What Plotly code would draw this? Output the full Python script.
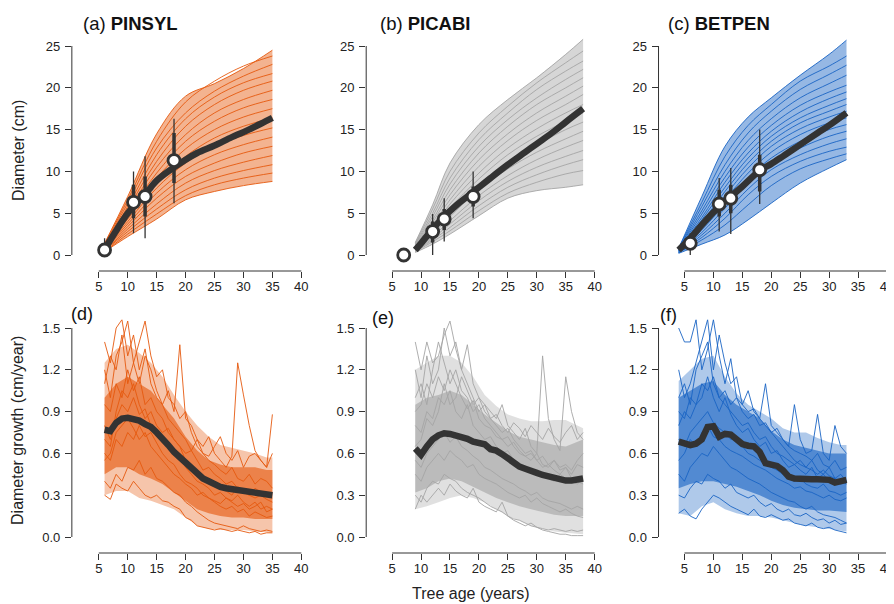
import plotly.graph_objects as go

# The page is drawn with the browser's default 8 px body margin, so the figure is
# made 8 px smaller and every reference pixel position is shifted by 8 px.
W_REF, H_REF = 894, 604
OFF = 8
W, H = W_REF - OFF, H_REF - OFF

# ------------------------------------------------------------------ DATA
species = ["PINSYL", "PICABI", "BETPEN"]
top_labels = ["(a)", "(b)", "(c)"]
bottom_labels = ["(d)", "(e)", "(f)"]
x_ticks = [5, 10, 15, 20, 25, 30, 35, 40]
y_ticks_top = [0, 5, 10, 15, 20, 25]
y_ticks_bottom = [0.0, 0.3, 0.6, 0.9, 1.2, 1.5]

# --- (a) PINSYL diameter curves
a_ages = [6, 10, 15, 20, 25, 30, 35]
a_curves = [
    [1.4, 7.0, 14.5, 19.0, 20.5, 22.3, 24.5],
    [1.3, 6.6, 13.6, 18.3, 20.8, 22.6, 23.8],
    [1.2, 6.2, 12.8, 17.0, 19.6, 21.4, 22.8],
    [1.1, 5.8, 12.0, 16.3, 18.9, 20.6, 21.7],
    [1.0, 5.5, 11.2, 15.4, 18.0, 19.7, 20.8],
    [0.9, 5.2, 10.5, 14.4, 17.0, 18.6, 19.7],
    [0.9, 4.9, 9.8, 13.6, 16.0, 17.6, 18.6],
    [0.8, 4.6, 9.2, 12.7, 15.0, 16.5, 17.5],
    [0.8, 4.3, 8.6, 11.8, 14.0, 15.4, 16.4],
    [0.7, 4.0, 8.0, 11.0, 13.0, 14.3, 15.2],
    [0.7, 3.7, 7.4, 10.2, 12.0, 13.2, 14.1],
    [0.6, 3.4, 6.8, 9.4, 11.0, 12.2, 13.0],
    [0.5, 3.1, 6.1, 8.6, 10.1, 11.1, 11.9],
    [0.5, 2.8, 5.5, 7.8, 9.2, 10.1, 10.8],
    [0.4, 2.5, 4.9, 7.1, 8.4, 9.2, 9.8],
    [0.4, 2.2, 4.3, 6.6, 7.6, 8.3, 8.8],
]
a_mean_ages = [6, 7, 8, 9, 10, 11, 12, 13, 14, 15, 17, 20, 22, 25, 28, 30, 33, 35]
a_mean = [0.6, 1.8, 2.9, 4.0, 5.0, 5.8, 6.6, 7.3, 8.1, 8.9, 10.0, 11.4, 12.2, 13.1, 14.1, 14.7, 15.7, 16.4]
a_pt_age = [6, 11, 13, 18]
a_pt_val = [0.6, 6.3, 7.0, 11.3]
a_thin_lo = [0.0, 2.6, 2.0, 6.2]
a_thin_hi = [2.0, 10.0, 11.8, 16.3]
a_thick_lo = [0.2, 4.4, 4.6, 8.6]
a_thick_hi = [1.2, 8.4, 9.4, 14.6]

# --- (b) PICABI diameter curves
b_ages = [9, 12, 15, 20, 25, 30, 35, 38]
b_curves = [
    [1.5, 6.0, 11.0, 15.6, 18.6, 21.2, 24.0, 25.8],
    [1.4, 5.5, 10.0, 14.6, 17.8, 20.6, 23.0, 24.4],
    [1.3, 5.0, 9.2, 13.8, 17.0, 19.8, 22.0, 23.2],
    [1.2, 4.6, 8.5, 13.0, 16.2, 18.8, 21.0, 22.2],
    [1.1, 4.2, 7.8, 12.2, 15.4, 18.0, 20.0, 21.2],
    [1.0, 3.9, 7.2, 11.4, 14.5, 17.0, 19.0, 20.2],
    [0.9, 3.6, 6.6, 10.6, 13.7, 16.1, 18.0, 19.2],
    [0.9, 3.3, 6.1, 9.8, 12.8, 15.1, 17.0, 18.0],
    [0.8, 3.0, 5.6, 9.1, 12.0, 14.2, 16.0, 17.0],
    [0.7, 2.7, 5.1, 8.4, 11.1, 13.2, 15.0, 15.9],
    [0.7, 2.5, 4.6, 7.8, 10.3, 12.3, 13.9, 14.8],
    [0.6, 2.2, 4.1, 7.1, 9.5, 11.4, 12.9, 13.7],
    [0.5, 2.0, 3.7, 6.5, 8.8, 10.5, 11.8, 12.5],
    [0.5, 1.8, 3.3, 5.9, 8.1, 9.6, 10.8, 11.4],
    [0.4, 1.6, 2.9, 5.3, 7.4, 8.7, 9.7, 10.1],
    [0.3, 1.3, 2.5, 4.7, 6.8, 7.7, 8.1, 8.4],
]
b_mean_ages = [9, 10, 12, 14, 16, 18, 20, 22, 25, 28, 30, 33, 35, 38]
b_mean = [0.6, 1.4, 3.1, 4.6, 5.9, 7.0, 8.1, 9.2, 10.8, 12.3, 13.3, 14.8, 15.9, 17.5]
b_pt_age = [7, 12, 14, 19]
b_pt_val = [0.0, 2.8, 4.3, 7.0]
b_thin_lo = [0.0, 0.0, 1.6, 4.4]
b_thin_hi = [0.0, 4.9, 6.8, 10.0]
b_thick_lo = [0.0, 1.5, 3.0, 5.8]
b_thick_hi = [0.0, 4.0, 5.5, 8.2]

# --- (c) BETPEN diameter curves
c_ages = [4, 8, 12, 16, 20, 25, 30, 33]
c_curves = [
    [0.8, 7.0, 13.0, 16.5, 18.8, 21.5, 24.0, 25.7],
    [0.8, 6.3, 11.8, 15.5, 18.0, 20.8, 22.6, 23.8],
    [0.7, 5.8, 10.8, 14.6, 17.2, 19.8, 21.6, 22.7],
    [0.7, 5.3, 10.0, 13.7, 16.3, 18.8, 20.5, 21.5],
    [0.6, 4.9, 9.3, 12.9, 15.5, 17.9, 19.5, 20.3],
    [0.6, 4.5, 8.7, 12.2, 14.8, 17.1, 18.7, 19.5],
    [0.5, 4.2, 8.1, 11.6, 14.2, 16.4, 17.9, 18.7],
    [0.5, 3.9, 7.6, 11.0, 13.6, 15.8, 17.2, 18.0],
    [0.5, 3.6, 7.1, 10.4, 13.0, 15.1, 16.5, 17.2],
    [0.4, 3.3, 6.6, 9.8, 12.3, 14.4, 15.8, 16.4],
    [0.4, 3.0, 6.1, 9.2, 11.6, 13.6, 15.0, 15.6],
    [0.4, 2.7, 5.6, 8.6, 10.9, 12.8, 14.2, 14.8],
    [0.3, 2.4, 5.0, 7.9, 10.2, 12.0, 13.3, 13.9],
    [0.3, 2.1, 4.4, 7.2, 9.4, 11.2, 12.4, 12.9],
    [0.3, 1.8, 3.6, 6.0, 8.3, 10.3, 11.5, 12.1],
    [0.2, 1.3, 2.4, 4.2, 6.2, 8.6, 10.4, 11.4],
]
c_mean_ages = [4, 6, 8, 10, 11, 13, 15, 18, 20, 22, 25, 28, 30, 33]
c_mean = [0.6, 2.0, 3.6, 5.1, 5.8, 7.0, 8.2, 10.1, 10.9, 11.8, 13.2, 14.6, 15.5, 17.0]
c_pt_age = [6, 11, 13, 18]
c_pt_val = [1.4, 6.1, 6.8, 10.2]
c_thin_lo = [0.0, 2.8, 2.5, 6.1]
c_thin_hi = [2.6, 9.2, 10.4, 15.0]
c_thick_lo = [0.6, 4.6, 5.0, 7.6]
c_thick_hi = [2.0, 7.8, 8.4, 12.0]

# --- (d) PINSYL growth
d_ages = list(range(6, 36))
d_lines = [
    [1.40, 1.25, 1.50, 1.56, 1.30, 1.45, 1.20, 1.35, 1.10, 1.00, 0.95, 1.05, 0.90, 1.38, 0.85, 0.80, 0.70, 0.65, 0.72, 0.60, 0.55, 0.50, 0.58, 1.25, 1.02, 0.80, 0.62, 0.55, 0.50, 0.60],
    [1.20, 1.00, 1.30, 1.40, 1.55, 1.25, 1.10, 1.30, 1.20, 1.05, 0.95, 0.85, 0.80, 0.75, 0.70, 0.62, 0.55, 0.48, 0.50, 0.45, 0.42, 0.38, 0.40, 0.35, 0.33, 0.30, 0.35, 0.32, 0.30, 0.28],
    [0.95, 0.90, 1.10, 1.00, 1.20, 1.05, 1.15, 0.95, 1.00, 0.90, 0.85, 0.75, 0.70, 0.65, 0.55, 0.50, 0.45, 0.40, 0.42, 0.38, 0.35, 0.33, 0.30, 0.36, 0.32, 0.30, 0.28, 0.30, 0.27, 0.25],
    [0.80, 0.70, 0.85, 0.95, 0.90, 1.00, 0.88, 0.92, 0.80, 0.78, 0.70, 0.65, 0.60, 0.58, 0.50, 0.45, 0.40, 0.38, 0.35, 0.30, 0.32, 0.28, 0.26, 0.30, 0.25, 0.22, 0.25, 0.20, 0.22, 0.20],
    [0.60, 0.55, 0.70, 0.65, 0.75, 0.70, 0.80, 0.72, 0.75, 0.68, 0.60, 0.55, 0.52, 0.45, 0.40, 0.38, 0.35, 0.30, 0.28, 0.25, 0.22, 0.20, 0.22, 0.18, 0.20, 0.15, 0.18, 0.16, 0.14, 0.15],
    [0.40, 0.35, 0.45, 0.40, 0.50, 0.48, 0.55, 0.45, 0.50, 0.42, 0.40, 0.36, 0.32, 0.30, 0.25, 0.22, 0.18, 0.15, 0.12, 0.10, 0.09, 0.08, 0.07, 0.06, 0.08, 0.06, 0.05, 0.04, 0.05, 0.04],
    [0.30, 0.27, 0.38, 0.35, 0.33, 0.40, 0.35, 0.30, 0.28, 0.30, 0.26, 0.25, 0.22, 0.20, 0.14, 0.12, 0.08, 0.07, 0.06, 0.05, 0.06, 0.05, 0.04, 0.05, 0.04, 0.03, 0.04, 0.02, 0.03, 0.03],
    [0.70, 0.65, 0.90, 1.05, 1.00, 1.10, 0.95, 0.85, 0.90, 0.80, 0.75, 0.78, 0.70, 0.65, 0.60, 0.62, 0.70, 0.60, 0.58, 0.65, 0.72, 0.60, 0.55, 0.62, 0.50, 0.58, 0.60, 0.55, 0.50, 0.88],
    [1.10, 1.30, 1.20, 1.45, 1.10, 1.25, 1.40, 1.55, 1.30, 1.15, 1.20, 1.00, 0.95, 0.85, 0.90, 0.75, 0.65, 0.60, 0.55, 0.52, 0.48, 0.45, 0.50, 0.42, 0.40, 0.45, 0.38, 0.42, 0.40, 0.35],
    [0.55, 0.60, 0.75, 0.80, 0.85, 0.78, 0.70, 0.75, 0.65, 0.60, 0.55, 0.50, 0.45, 0.42, 0.38, 0.35, 0.30, 0.32, 0.28, 0.26, 0.24, 0.28, 0.25, 0.22, 0.24, 0.20, 0.22, 0.25, 0.18, 0.20],
]
d_band_ages = [6, 8, 10, 12, 14, 16, 18, 20, 22, 24, 26, 28, 30, 32, 34, 35]
d_outer_lo = [0.30, 0.33, 0.33, 0.28, 0.26, 0.23, 0.20, 0.14, 0.08, 0.06, 0.05, 0.05, 0.05, 0.04, 0.03, 0.03]
d_outer_hi = [1.25, 1.35, 1.38, 1.32, 1.25, 1.15, 1.02, 0.90, 0.80, 0.72, 0.66, 0.64, 0.62, 0.60, 0.57, 0.57]
d_core_lo = [0.45, 0.50, 0.50, 0.45, 0.42, 0.38, 0.32, 0.26, 0.20, 0.17, 0.15, 0.14, 0.14, 0.13, 0.13, 0.13]
d_core_hi = [1.00, 1.10, 1.15, 1.10, 1.05, 0.95, 0.85, 0.72, 0.62, 0.55, 0.52, 0.50, 0.50, 0.50, 0.48, 0.48]
d_mean = [0.77, 0.76, 0.82, 0.85, 0.855, 0.85, 0.835, 0.81, 0.79, 0.75, 0.71, 0.66, 0.61, 0.57, 0.53,
          0.49, 0.45, 0.42, 0.40, 0.375, 0.36, 0.35, 0.345, 0.34, 0.33, 0.32, 0.315, 0.31, 0.305, 0.30]

# --- (e) PICABI growth
e_ages = list(range(9, 39))
e_lines = [
    [1.40, 1.20, 1.40, 1.25, 1.30, 1.45, 1.55, 1.35, 1.20, 1.38, 1.10, 1.00, 0.95, 0.90, 0.85, 0.95, 0.80, 0.75, 0.70, 0.78, 0.65, 0.60, 1.30, 0.85, 0.70, 0.62, 1.15, 0.90, 0.75, 0.70],
    [1.00, 1.10, 0.95, 1.20, 1.40, 1.25, 1.10, 1.20, 1.05, 1.00, 0.90, 0.95, 0.85, 0.80, 0.75, 0.70, 0.72, 0.65, 0.60, 0.58, 0.55, 0.60, 0.52, 0.50, 0.55, 0.48, 0.50, 0.45, 0.52, 0.50],
    [0.80, 0.75, 0.90, 0.85, 1.00, 0.95, 1.05, 0.90, 0.85, 0.95, 0.80, 0.75, 0.70, 0.72, 0.65, 0.60, 0.62, 0.55, 0.52, 0.50, 0.48, 0.45, 0.47, 0.42, 0.40, 0.45, 0.42, 0.40, 0.38, 0.42],
    [0.55, 0.50, 0.60, 0.65, 0.70, 0.75, 0.68, 0.72, 0.65, 0.62, 0.58, 0.55, 0.50, 0.48, 0.45, 0.42, 0.40, 0.38, 0.35, 0.33, 0.30, 0.32, 0.28, 0.26, 0.25, 0.24, 0.22, 0.20, 0.22, 0.20],
    [0.30, 0.25, 0.35, 0.40, 0.38, 0.45, 0.42, 0.40, 0.35, 0.32, 0.30, 0.28, 0.25, 0.22, 0.20, 0.18, 0.15, 0.13, 0.12, 0.10, 0.08, 0.07, 0.05, 0.04, 0.03, 0.02, 0.02, 0.01, 0.01, 0.01],
    [0.20, 0.30, 0.25, 0.30, 0.35, 0.30, 0.38, 0.33, 0.30, 0.28, 0.35, 0.25, 0.22, 0.20, 0.18, 0.25, 0.15, 0.12, 0.10, 0.08, 0.10, 0.07, 0.06, 0.05, 0.06, 0.05, 0.04, 0.05, 0.04, 0.05],
    [0.65, 0.70, 0.85, 0.80, 0.90, 1.10, 0.95, 1.00, 1.15, 1.05, 0.95, 1.00, 0.90, 0.85, 0.88, 0.80, 0.75, 0.82, 0.78, 0.72, 0.80, 0.75, 0.70, 0.78, 0.72, 0.68, 0.75, 0.80, 0.70, 0.75],
    [1.20, 1.00, 1.30, 1.10, 1.20, 1.50, 1.30, 1.40, 1.20, 1.10, 1.00, 0.90, 0.95, 0.85, 0.80, 0.75, 0.78, 0.70, 0.65, 0.60, 0.62, 0.55, 0.50, 0.52, 0.48, 0.45, 0.50, 0.42, 0.40, 0.38],
    [0.45, 0.40, 0.50, 0.55, 0.60, 0.55, 0.62, 0.58, 0.55, 0.50, 0.52, 0.45, 0.42, 0.40, 0.38, 0.35, 0.32, 0.30, 0.28, 0.30, 0.25, 0.28, 0.24, 0.22, 0.20, 0.18, 0.20, 0.17, 0.15, 0.14],
    [0.90, 0.95, 1.10, 1.00, 1.15, 1.05, 1.20, 1.10, 1.00, 0.92, 0.98, 0.85, 0.80, 0.78, 0.72, 0.70, 0.65, 0.68, 0.62, 0.58, 0.60, 0.55, 0.58, 0.52, 0.55, 0.50, 0.52, 0.48, 0.55, 0.60],
]
e_band_ages = [9, 11, 13, 15, 17, 19, 21, 23, 25, 27, 29, 31, 33, 35, 37, 38]
e_outer_lo = [0.20, 0.22, 0.25, 0.28, 0.30, 0.28, 0.25, 0.20, 0.15, 0.12, 0.08, 0.06, 0.04, 0.03, 0.02, 0.02]
e_outer_hi = [1.20, 1.25, 1.30, 1.30, 1.25, 1.15, 1.02, 0.94, 0.88, 0.85, 0.83, 0.83, 0.84, 0.84, 0.80, 0.78]
e_core_lo = [0.32, 0.35, 0.40, 0.42, 0.40, 0.36, 0.32, 0.28, 0.25, 0.22, 0.20, 0.18, 0.16, 0.15, 0.15, 0.15]
e_core_hi = [0.95, 1.00, 1.02, 1.05, 1.02, 0.95, 0.88, 0.82, 0.76, 0.72, 0.70, 0.68, 0.66, 0.65, 0.68, 0.70]
e_mean = [0.635, 0.59, 0.65, 0.70, 0.73, 0.745, 0.74, 0.73, 0.72, 0.705, 0.685, 0.67, 0.665, 0.63, 0.62,
          0.595, 0.565, 0.535, 0.505, 0.49, 0.47, 0.46, 0.445, 0.432, 0.42, 0.41, 0.405, 0.405, 0.413, 0.42]

# --- (f) BETPEN growth
f_ages = list(range(4, 34))
f_lines = [
    [1.50, 1.40, 1.40, 1.56, 1.20, 1.35, 1.56, 1.30, 1.10, 1.28, 1.00, 0.95, 1.05, 0.90, 0.85, 1.10, 0.80, 0.75, 0.70, 0.65, 0.95, 0.70, 0.60, 0.62, 0.88, 0.60, 0.55, 0.80, 0.65, 0.60],
    [1.20, 1.00, 1.10, 1.25, 1.40, 1.56, 1.20, 1.45, 1.25, 1.10, 1.15, 0.95, 0.90, 0.92, 0.85, 0.80, 0.75, 0.78, 0.70, 0.65, 0.62, 0.60, 0.58, 0.55, 0.60, 0.52, 0.50, 0.55, 0.48, 0.50],
    [0.90, 0.85, 1.00, 0.95, 1.10, 1.05, 1.15, 1.00, 0.95, 0.90, 0.85, 0.80, 0.82, 0.75, 0.70, 0.72, 0.65, 0.60, 0.58, 0.55, 0.52, 0.55, 0.50, 0.48, 0.45, 0.48, 0.44, 0.42, 0.45, 0.40],
    [0.70, 0.65, 0.75, 0.80, 0.85, 0.90, 0.82, 0.78, 0.75, 0.70, 0.72, 0.65, 0.60, 0.58, 0.55, 0.52, 0.50, 0.48, 0.45, 0.42, 0.40, 0.42, 0.38, 0.36, 0.35, 0.38, 0.33, 0.32, 0.30, 0.32],
    [0.45, 0.40, 0.50, 0.55, 0.60, 0.58, 0.65, 0.60, 0.55, 0.50, 0.48, 0.45, 0.42, 0.40, 0.38, 0.35, 0.32, 0.30, 0.28, 0.26, 0.25, 0.22, 0.20, 0.22, 0.18, 0.16, 0.15, 0.14, 0.12, 0.10],
    [0.17, 0.20, 0.15, 0.13, 0.20, 0.25, 0.30, 0.28, 0.25, 0.22, 0.20, 0.18, 0.16, 0.20, 0.15, 0.14, 0.16, 0.14, 0.12, 0.13, 0.10, 0.09, 0.08, 0.10, 0.07, 0.06, 0.07, 0.05, 0.04, 0.03],
    [1.00, 1.10, 0.95, 1.20, 1.30, 1.40, 1.10, 1.00, 1.05, 0.95, 1.00, 0.90, 0.85, 0.88, 0.80, 0.82, 0.75, 0.70, 0.65, 0.60, 0.55, 0.52, 0.50, 0.55, 0.48, 0.45, 0.50, 0.42, 0.40, 0.38],
    [0.30, 0.28, 0.35, 0.40, 0.38, 0.45, 0.42, 0.40, 0.35, 0.38, 0.32, 0.30, 0.28, 0.30, 0.25, 0.22, 0.24, 0.20, 0.18, 0.20, 0.16, 0.15, 0.17, 0.14, 0.12, 0.13, 0.10, 0.12, 0.09, 0.10],
    [0.80, 0.90, 0.85, 0.95, 1.00, 1.15, 1.00, 0.90, 1.00, 0.88, 0.80, 0.75, 0.78, 0.70, 0.65, 0.68, 0.60, 0.62, 0.55, 0.50, 0.52, 0.48, 0.45, 0.50, 0.42, 0.45, 0.40, 0.42, 0.38, 0.40],
    [0.55, 0.60, 0.70, 0.65, 0.75, 0.80, 0.72, 0.70, 0.65, 0.62, 0.60, 0.58, 0.55, 0.52, 0.50, 0.48, 0.45, 0.42, 0.40, 0.38, 0.35, 0.36, 0.33, 0.32, 0.30, 0.28, 0.30, 0.27, 0.26, 0.28],
]
f_band_ages = [4, 6, 8, 10, 12, 14, 16, 18, 20, 22, 24, 26, 28, 30, 32, 33]
f_outer_lo = [0.17, 0.15, 0.22, 0.25, 0.20, 0.17, 0.15, 0.15, 0.14, 0.12, 0.10, 0.08, 0.07, 0.06, 0.05, 0.04]
f_outer_hi = [1.12, 1.20, 1.28, 1.30, 1.15, 1.03, 0.95, 0.90, 0.85, 0.78, 0.75, 0.75, 0.71, 0.68, 0.66, 0.66]
f_core_lo = [0.35, 0.38, 0.40, 0.40, 0.38, 0.36, 0.33, 0.30, 0.26, 0.23, 0.21, 0.20, 0.19, 0.19, 0.18, 0.18]
f_core_hi = [1.00, 1.05, 1.10, 1.12, 1.02, 0.95, 0.90, 0.85, 0.76, 0.70, 0.66, 0.64, 0.62, 0.60, 0.60, 0.60]
f_mean = [0.684, 0.67, 0.66, 0.67, 0.70, 0.79, 0.795, 0.72, 0.74, 0.735, 0.70, 0.667, 0.655, 0.65, 0.61,
          0.53, 0.52, 0.51, 0.48, 0.433, 0.42, 0.415, 0.415, 0.415, 0.415, 0.415, 0.41, 0.39, 0.405, 0.41]

# ------------------------------------------------------------------ STYLE / GEOMETRY
COLORS = [(229, 89, 14), (165, 165, 165), (26, 100, 196)]
DARK = "#333333"
FONT = "Liberation Sans, Arial, sans-serif"

# pixel geometry of the panels (in reference picture pixels)
COL_LEFT = [72, 367, 660]     # y-axis position
COL_X5 = [99, 393, 686]       # pixel of age 5
COL_RIGHT = [312, 606, 894]
PX_PER_YEAR = 5.8
ROW_TOP = dict(y0=255, scale=8.36, top=36, bottom=271)
ROW_BOT = dict(y0=537, scale=139.33, top=319.5, bottom=553)


def fx(px):
    return (px - OFF) / W


def fy(py):
    return 1 - (py - OFF) / H


def rgba(c, a):
    return "rgba(%d,%d,%d,%.2f)" % (c[0], c[1], c[2], a)


fig = go.Figure()
top_sets = [
    (a_ages, a_curves, a_mean_ages, a_mean, a_pt_age, a_pt_val, a_thin_lo, a_thin_hi, a_thick_lo, a_thick_hi),
    (b_ages, b_curves, b_mean_ages, b_mean, b_pt_age, b_pt_val, b_thin_lo, b_thin_hi, b_thick_lo, b_thick_hi),
    (c_ages, c_curves, c_mean_ages, c_mean, c_pt_age, c_pt_val, c_thin_lo, c_thin_hi, c_thick_lo, c_thick_hi),
]
bot_sets = [
    (d_ages, d_lines, d_band_ages, d_outer_lo, d_outer_hi, d_core_lo, d_core_hi, d_mean),
    (e_ages, e_lines, e_band_ages, e_outer_lo, e_outer_hi, e_core_lo, e_core_hi, e_mean),
    (f_ages, f_lines, f_band_ages, f_outer_lo, f_outer_hi, f_core_lo, f_core_hi, f_mean),
]


def axnames(i):
    s = "" if i == 0 else str(i + 1)
    return "x" + s, "y" + s


# top row traces
for j, (ages, curves, m_ages, m_vals, p_age, p_val, tlo, thi, klo, khi) in enumerate(top_sets):
    xa, ya = axnames(j)
    col = COLORS[j]
    fig.add_trace(go.Scatter(x=ages, y=curves[-1], mode="lines", line=dict(width=0, shape="spline"),
                             xaxis=xa, yaxis=ya, showlegend=False, hoverinfo="skip"))
    fig.add_trace(go.Scatter(x=ages, y=curves[0], mode="lines", line=dict(width=0, shape="spline"),
                             fill="tonexty", fillcolor=rgba(col, 0.46),
                             xaxis=xa, yaxis=ya, showlegend=False, hoverinfo="skip"))
    for cv in curves:
        fig.add_trace(go.Scatter(x=ages, y=cv, mode="lines",
                                 line=dict(color=rgba(col, 1), width=0.9, shape="spline"),
                                 xaxis=xa, yaxis=ya, showlegend=False, hoverinfo="skip"))
    fig.add_trace(go.Scatter(x=m_ages, y=m_vals, mode="lines",
                             line=dict(color=DARK, width=6.5, shape="spline"),
                             xaxis=xa, yaxis=ya, showlegend=False))
    thin_x, thin_y, thick_x, thick_y = [], [], [], []
    for a, lo, hi, klo_, khi_ in zip(p_age, tlo, thi, klo, khi):
        thin_x += [a, a, None]
        thin_y += [lo, hi, None]
        thick_x += [a, a, None]
        thick_y += [klo_, khi_, None]
    fig.add_trace(go.Scatter(x=thin_x, y=thin_y, mode="lines", line=dict(color=DARK, width=1.3),
                             xaxis=xa, yaxis=ya, showlegend=False))
    fig.add_trace(go.Scatter(x=thick_x, y=thick_y, mode="lines", line=dict(color=DARK, width=3.5),
                             xaxis=xa, yaxis=ya, showlegend=False))
    fig.add_trace(go.Scatter(x=p_age, y=p_val, mode="markers", cliponaxis=False,
                             marker=dict(size=12, color="white", line=dict(color=DARK, width=2.8)),
                             xaxis=xa, yaxis=ya, showlegend=False))

# bottom row traces
for j, (ages, lines, b_ages_, olo, ohi, clo, chi, m_vals) in enumerate(bot_sets):
    xa, ya = axnames(j + 3)
    col = COLORS[j]
    for lo, hi, alpha in ((olo, ohi, 0.35), (clo, chi, 0.62)):
        fig.add_trace(go.Scatter(x=b_ages_, y=lo, mode="lines", line=dict(width=0),
                                 xaxis=xa, yaxis=ya, showlegend=False, hoverinfo="skip"))
        fig.add_trace(go.Scatter(x=b_ages_, y=hi, mode="lines", line=dict(width=0),
                                 fill="tonexty", fillcolor=rgba(col, alpha),
                                 xaxis=xa, yaxis=ya, showlegend=False, hoverinfo="skip"))
    for ln in lines:
        fig.add_trace(go.Scatter(x=ages, y=ln, mode="lines",
                                 line=dict(color=rgba(col, 1), width=0.9),
                                 xaxis=xa, yaxis=ya, showlegend=False, hoverinfo="skip"))
    fig.add_trace(go.Scatter(x=ages, y=m_vals, mode="lines",
                             line=dict(color=DARK, width=6.5),
                             xaxis=xa, yaxis=ya, showlegend=False))

# ------------------------------------------------------------------ AXES
layout = dict(width=W, height=H, margin=dict(l=0, r=0, t=0, b=0),
              paper_bgcolor="white", plot_bgcolor="white", showlegend=False,
              font=dict(family=FONT, color="#222222"))
shapes = []
for i in range(6):
    j = i % 3
    row = ROW_TOP if i < 3 else ROW_BOT
    xa, ya = axnames(i)
    xkey = "xaxis" if i == 0 else "xaxis%d" % (i + 1)
    ykey = "yaxis" if i == 0 else "yaxis%d" % (i + 1)
    left, x5, right = COL_LEFT[j], COL_X5[j], COL_RIGHT[j]
    right_c = min(right, W_REF)
    xr = [5 - (x5 - left) / PX_PER_YEAR, 5 + (right_c - x5) / PX_PER_YEAR]
    yr = [(row["y0"] - row["bottom"]) / row["scale"], (row["y0"] - row["top"]) / row["scale"]]
    layout[xkey] = dict(domain=[fx(left), min(fx(right_c), 1.0)], range=xr, anchor=ya,
                        showgrid=False, zeroline=False, showline=False,
                        tickmode="array", tickvals=x_ticks, ticks="outside", ticklen=6,
                        tickcolor=DARK, tickwidth=1, ticklabelstandoff=-3,
                        ticklabeloverflow="allow",
                        tickfont=dict(family=FONT, size=13, color="#222222"))
    yticks = y_ticks_top if i < 3 else y_ticks_bottom
    layout[ykey] = dict(domain=[fy(row["bottom"]), fy(row["top"])], range=yr, anchor=xa,
                        showgrid=False, zeroline=False, showline=False,
                        tickmode="array", tickvals=yticks,
                        ticktext=[("%d" % v) if i < 3 else ("%.1f" % v) for v in yticks],
                        ticks="outside", ticklen=6, tickcolor=DARK, tickwidth=1, ticklabelstandoff=2,
                        tickfont=dict(family=FONT, size=13, color="#222222"))
    shapes.append(dict(type="line", xref=xa, yref=ya + " domain", x0=x_ticks[0], x1=x_ticks[-1],
                       y0=0, y1=0, line=dict(color=DARK, width=1)))
    shapes.append(dict(type="line", xref=xa + " domain", yref=ya, x0=0, x1=0,
                       y0=yticks[0], y1=yticks[-1], line=dict(color=DARK, width=1)))
layout["shapes"] = shapes

ann = []
title_x = [81, 379, 667]
for j in range(3):
    ann.append(dict(text="%s <b>%s</b>" % (top_labels[j], species[j]), x=fx(title_x[j]), y=fy(23),
                    xref="paper", yref="paper", xanchor="left", yanchor="middle", showarrow=False,
                    font=dict(family=FONT, size=18.5, color="#111111")))
bot_lab_pos = [(69, 314), (371, 318), (659, 315)]
for j in range(3):
    ann.append(dict(text=bottom_labels[j], x=fx(bot_lab_pos[j][0]), y=fy(bot_lab_pos[j][1]),
                    xref="paper", yref="paper", xanchor="left", yanchor="middle", showarrow=False,
                    font=dict(family=FONT, size=18, color="#111111")))
ann.append(dict(text="Diameter (cm)", x=fx(18), y=fy(150), textangle=-90, xref="paper", yref="paper",
                xanchor="center", yanchor="middle", showarrow=False, font=dict(family=FONT, size=16)))
ann.append(dict(text="Diameter growth (cm/year)", x=fx(17), y=fy(430), textangle=-90, xref="paper",
                yref="paper", xanchor="center", yanchor="middle", showarrow=False,
                font=dict(family=FONT, size=16)))
ann.append(dict(text="Tree age (years)", x=fx(472), y=fy(593), xref="paper", yref="paper",
                xanchor="center", yanchor="middle", showarrow=False, font=dict(family=FONT, size=16)))
layout["annotations"] = ann

fig.update_layout(**layout)
fig.write_html("out.html")
